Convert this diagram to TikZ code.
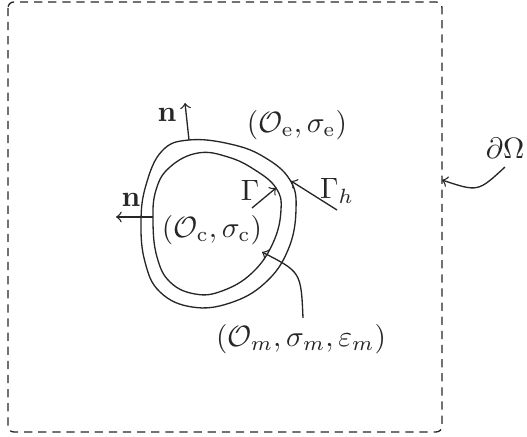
\documentclass[tikz,border=0pt]{standalone}
\usepackage{amsmath,amssymb}
\begin{document}
\begin{tikzpicture}[x=0.34pt, y=-0.34pt, every path/.style={line width=0.45pt, black!85}, >=to, lbl/.style={inner sep=0pt}]
        \useasboundingbox (0,0) rectangle (527,437);
        % domain boundary
        \draw[dash pattern=on 2.8pt off 2pt, rounded corners=2pt] (8,2) rectangle (442,432);
        % outer and inner interfaces
        \draw plot[smooth cycle, tension=0.7] coordinates {(189,140) (230,144) (264,157) (290,180) (296,210) (288,250) (265,283) (230,303) (192,307) (160,292) (145,262) (141,222) (146,185) (162,151)};
        \draw plot[smooth cycle, tension=0.7] coordinates {(198,153) (228,157) (255,170) (276,188) (281,210) (273,243) (252,273) (222,291) (195,294) (170,282) (157,257) (153,222) (156,190) (170,167)};
        % labels
        \node[lbl] (n1) at (167,115) {$\mathbf{n}$};
        \node[lbl] (n2) at (131,200) {$\mathbf{n}$};
        \node[lbl] (e) at (297,125) {$(\mathcal{O}_{\mathrm{e}},\sigma_{\mathrm{e}})$};
        \node[lbl] (c) at (212,230) {$(\mathcal{O}_{\mathrm{c}},\sigma_{\mathrm{c}})$};
        \node[lbl] (m) at (301,339) {$(\mathcal{O}_m,\sigma_m,\varepsilon_m)$};
        \node[lbl] (g) at (250,190) {$\Gamma$};
        \node[lbl] (gh) at (337,191) {$\Gamma_h$};
        \node[lbl] (dO) at (505,148) {$\partial\Omega$};
        % arrow ends
        \coordinate (a1) at (189,140);
        \coordinate (b1) at (185,103);
        \coordinate (a2) at (153,217);
        \coordinate (b2) at (116,217);
        \coordinate (g0) at (252,208);
        \coordinate (g1) at (276,188);
        \coordinate (h0) at (337,210);
        \coordinate (h1) at (291,181);
        \coordinate (m0) at (303,318);
        \coordinate (m1) at (262,252);
        \coordinate (d0) at (505,167);
        \coordinate (d1) at (442,180);
        \draw[->] (a1) -- (b1);
        \draw[->] (a2) -- (b2);
        \draw[->] (g0) -- (g1);
        \draw[->] (h0) -- (h1);
        \draw[->] (m0) .. controls (301,272) .. (m1);
        \draw[->] (d0) .. controls (478,192) .. (d1);
    \end{tikzpicture}
\end{document}
